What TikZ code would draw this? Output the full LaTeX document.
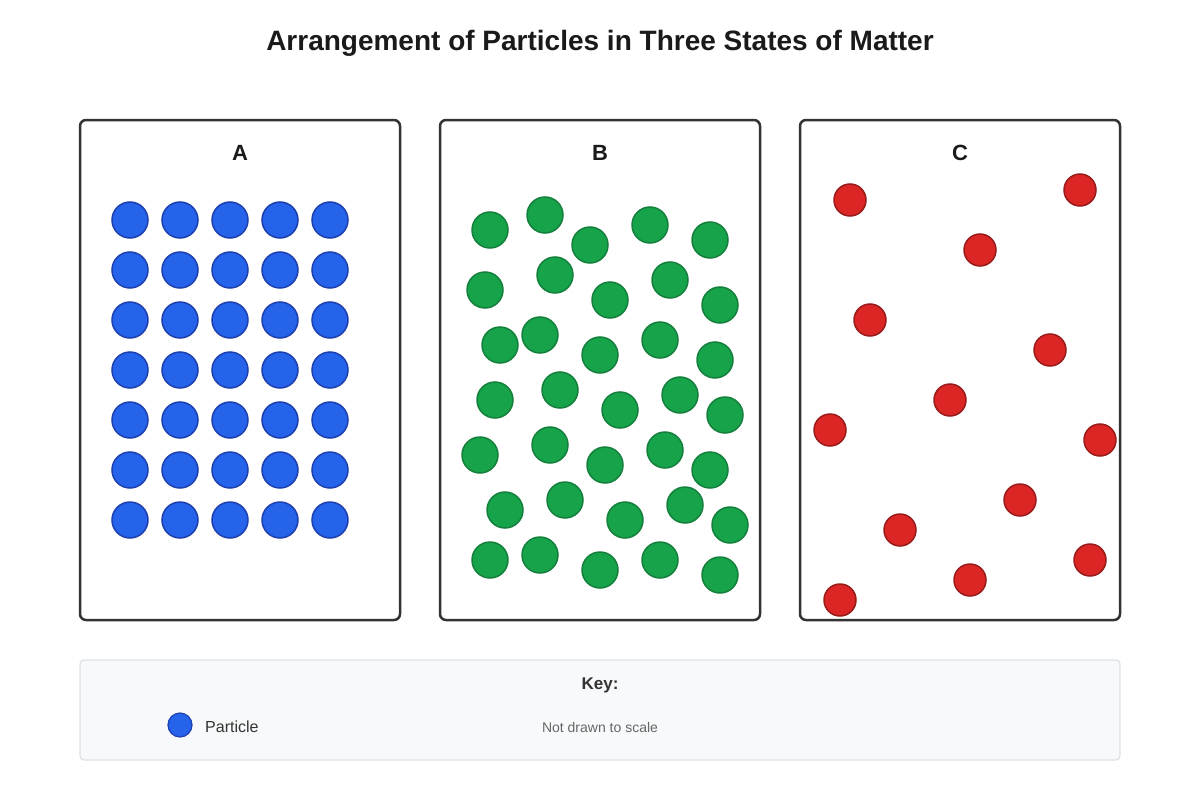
\documentclass[tikz,border=0pt]{standalone}
\usepackage{fontspec}
\setmainfont{Liberation Sans}
\definecolor{frame}{HTML}{333333}
\definecolor{titlec}{HTML}{1A1A1A}
\definecolor{bluef}{HTML}{2563EB}
\definecolor{blued}{HTML}{1E40AF}
\definecolor{greenf}{HTML}{16A34A}
\definecolor{greend}{HTML}{15803D}
\definecolor{redf}{HTML}{DC2626}
\definecolor{redd}{HTML}{991B1B}
\definecolor{keyfill}{HTML}{F8F9FA}
\definecolor{keyline}{HTML}{DEE2E6}
\definecolor{grayt}{HTML}{666666}
\tikzset{
  panel/.style={draw=frame, line width=2.5pt, rounded corners=6pt, fill=white},
  panellabel/.style={font=\fontsize{22}{26}\selectfont\bfseries, text=titlec, inner sep=0pt},
  solidp/.style={circle, draw=blued, fill=bluef, line width=1.5pt, minimum size=36pt, inner sep=0pt},
  liquidp/.style={circle, draw=greend, fill=greenf, line width=1.5pt, minimum size=36pt, inner sep=0pt},
  gasp/.style={circle, draw=redd, fill=redf, line width=1.5pt, minimum size=32pt, inner sep=0pt},
  keyp/.style={circle, draw=blued, fill=bluef, line width=1.2pt, minimum size=24pt, inner sep=0pt},
}
\begin{document}
\begin{tikzpicture}[x=1pt,y=-1pt]
\useasboundingbox (0,0) rectangle (1200,800);
\fill[white] (0,0) rectangle (1200,800);
\node[font=\fontsize{28}{32}\selectfont\bfseries, text=titlec, inner sep=0pt] (title) at (600,43) {Arrangement of Particles in Three States of Matter};

% panels
\draw[panel] (80,120) rectangle (400,620);
\draw[panel] (440,120) rectangle (760,620);
\draw[panel] (800,120) rectangle (1120,620);
\node[panellabel] (labA) at (240,153) {A};
\node[panellabel] (labB) at (600,153) {B};
\node[panellabel] (labC) at (960,153) {C};

% solid
\foreach \r in {0,...,6}{
  \foreach \c in {0,...,4}{
    \node[solidp] (s\r\c) at ({130+50*\c},{220+50*\r}) {};
  }
}

% liquid
\foreach \x/\y [count=\i] in {490/230,545/215,590/245,650/225,710/240,
  485/290,555/275,610/300,670/280,720/305,
  500/345,540/335,600/355,660/340,715/360,
  495/400,560/390,620/410,680/395,725/415,
  480/455,550/445,605/465,665/450,710/470,
  505/510,565/500,625/520,685/505,730/525,
  490/560,540/555,600/570,660/560,720/575}{
  \node[liquidp] (l\i) at (\x,\y) {};
}

% gas
\foreach \x/\y [count=\i] in {850/200,1080/190,980/250,870/320,1050/350,950/400,
  830/430,1100/440,1020/500,900/530,970/580,1090/560,840/600}{
  \node[gasp] (g\i) at (\x,\y) {};
}

% key
\draw[draw=keyline, fill=keyfill, line width=1.2pt, rounded corners=4pt] (80,660) rectangle (1120,760);
\node[font=\fontsize{17}{20}\selectfont\bfseries, text=frame, inner sep=0pt] (keyt) at (600,685) {Key:};
\node[keyp] (keyc) at (180,725) {};
\node[font=\fontsize{16}{19}\selectfont, text=frame, anchor=west, inner sep=0pt] (keyl) at (205,727) {Particle};
\node[font=\fontsize{14}{17}\selectfont, text=grayt, inner sep=0pt] (scale) at (600,727) {Not drawn to scale};
\end{tikzpicture}
\end{document}
